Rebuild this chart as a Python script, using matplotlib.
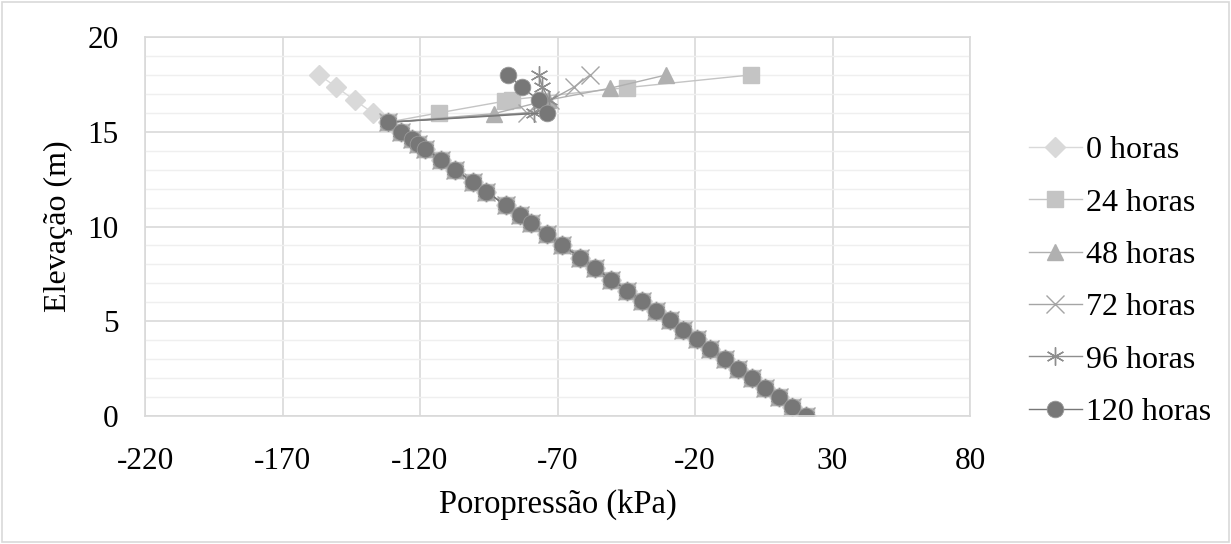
import matplotlib
matplotlib.use("Agg")
import matplotlib.pyplot as plt
from matplotlib.patches import Rectangle

plt.rcParams['font.family'] = ['Liberation Serif', 'DejaVu Serif']

# Shared hydrostatic section (elevation m, pore pressure kPa)
base_z = [15.5, 15.0, 14.6, 14.35, 14.1, 13.5, 12.98, 12.35, 11.84, 11.12, 10.6,
          10.17, 9.58, 9.03, 8.36, 7.8, 7.2, 6.62, 6.08, 5.55, 5.04, 4.53, 4.04,
          3.55, 3.0, 2.49, 2.0, 1.5, 1.0, 0.5, 0.0]
base_p = [-131.8, -126.9, -123.0, -120.6, -118.1, -112.2, -107.1, -100.9, -95.9,
          -88.9, -83.8, -79.6, -73.8, -68.4, -61.8, -56.3, -50.4, -44.7, -39.4,
          -34.2, -29.2, -24.2, -19.4, -14.6, -9.2, -4.2, 0.6, 5.5, 10.4, 15.3, 20.2]

# Top part of each series
top_z_0 = [18.0, 17.35, 16.67, 16.0]
top_p_0 = [-156.6, -150.4, -143.8, -137.2]
top_z_24 = [18.0, 17.33, 16.7, 16.62, 16.0]
top_p_24 = [0.4, -44.7, -86.5, -89.0, -113.0]
top_z_48 = [18.0, 17.3, 16.67, 15.95]
top_p_48 = [-30.4, -50.8, -73.5, -93.2]
top_z_72 = [18.0, 17.35, 16.67, 16.0]
top_p_72 = [-58.1, -64.1, -72.6, -81.1]
top_z_96 = [18.0, 17.38, 16.67, 16.0]
top_p_96 = [-76.9, -75.5, -73.0, -78.5]
top_z_120 = [18.0, 17.35, 16.67, 16.0]
top_p_120 = [-88.0, -82.9, -76.9, -73.8]

labels = ['0 horas', '24 horas', '48 horas', '72 horas', '96 horas', '120 horas']
series = [(top_p_0, top_z_0), (top_p_24, top_z_24), (top_p_48, top_z_48),
          (top_p_72, top_z_72), (top_p_96, top_z_96), (top_p_120, top_z_120)]

xticks = [-220, -170, -120, -70, -20, 30, 80]
yticks = [0, 5, 10, 15, 20]

styles = [
    dict(marker='D', color='#D9D9D9', mfc='#D9D9D9', mec='#D9D9D9', ms=10.5),
    dict(marker='s', color='#C4C4C4', mfc='#C4C4C4', mec='#C4C4C4', ms=12),
    dict(marker='^', color='#B0B0B0', mfc='#B0B0B0', mec='#B0B0B0', ms=12),
    dict(marker='x', color='#A5A5A5', mfc='none', mec='#A5A5A5', ms=13, mew=1.0),
    dict(marker=(6, 2, 0), color='#8E8E8E', mfc='none', mec='#8E8E8E', ms=13, mew=1.0),
    dict(marker='o', color='#777777', mfc='#777777', mec='#9A9A9A', ms=12, mew=0.6),
]

fig = plt.figure(figsize=(12.31, 5.44), dpi=100)
ax = fig.add_axes([145/1231, 1-416/544, (970-145)/1231, (416-37)/544])

for (tp, tz), lab, st in zip(series, labels, styles):
    xs = tp + base_p
    zs = tz + base_z
    ax.plot(xs, zs, label=lab, lw=1.0, **st)

ax.set_xlim(-220, 80)
ax.set_ylim(0, 20)
ax.set_xticks(xticks)
ax.set_yticks(yticks)
ax.set_xticklabels([str(v) for v in xticks])
ax.set_yticks(range(0, 21), minor=True)
ax.grid(True, which='major', color='#D9D9D9', lw=1.2)
ax.grid(True, which='minor', axis='y', color='#EFEFEF', lw=1.0)
ax.set_axisbelow(True)
for s in ax.spines.values():
    s.set_color('#D9D9D9')
    s.set_linewidth(1.2)
ax.tick_params(which='both', length=0, labelsize=22.5)
ax.tick_params(axis='x', pad=22)
ax.tick_params(axis='y', pad=19)
ax.set_xlabel('Poropressão (kPa)', fontsize=23.5, labelpad=10)
ax.set_ylabel('Elevação (m)', fontsize=23, labelpad=10)

leg = ax.legend(loc='center left', bbox_to_anchor=(1.056, 0.355), frameon=False,
                fontsize=23, handlelength=1.65, handletextpad=0.15,
                labelspacing=0.72, borderaxespad=0)

fig.patches.append(Rectangle((0.002, 0.003), 0.996, 0.994, transform=fig.transFigure,
                             fill=False, edgecolor='#D9D9D9', lw=1.2))

fig.savefig('out.png', dpi=100)
